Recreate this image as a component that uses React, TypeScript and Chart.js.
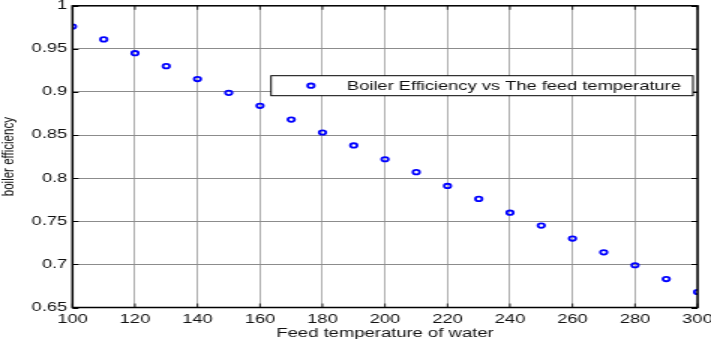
import { useEffect, useRef } from "react";
import { Chart, registerables } from "chart.js";

Chart.register(...registerables);

// Feed water temperature (x) and resulting boiler efficiency (y)
const feedTemps = [100, 110, 120, 130, 140, 150, 160, 170, 180, 190, 200, 210, 220, 230, 240, 250, 260, 270, 280, 290, 300];
const efficiency = [0.976, 0.961, 0.945, 0.93, 0.915, 0.899, 0.884, 0.868, 0.853, 0.838, 0.822, 0.807, 0.791, 0.776, 0.76, 0.745, 0.73, 0.714, 0.699, 0.683, 0.668];

const seriesLabel = "Boiler Efficiency vs The feed temperature";
const xTitle = "Feed temperature of water";
const yTitle = "boiler efficiency";

const xMin = 100;
const xMax = 300;
const xStep = 20;
const yMin = 0.65;
const yMax = 1;
const yStep = 0.05;

// The figure is drawn narrow and stretched horizontally on screen
const STRETCH = 1.5;
const CANVAS_W = 474;
const CANVAS_H = 339;
const FONT = "'Liberation Sans', Arial, sans-serif";

const framePlugin = {
  id: "frameAndLegend",
  afterDatasetsDraw(chart: any) {
    const { ctx, chartArea } = chart;
    const { left, right, top, bottom } = chartArea;
    const xs = chart.scales.x;
    const ys = chart.scales.y;
    ctx.save();
    // inward tick marks on all four sides
    ctx.strokeStyle = "#000";
    ctx.lineWidth = 0.8;
    xs.ticks.forEach((t: any) => {
      const px = xs.getPixelForValue(t.value);
      ctx.beginPath();
      ctx.moveTo(px, bottom);
      ctx.lineTo(px, bottom - 4);
      ctx.moveTo(px, top);
      ctx.lineTo(px, top + 4);
      ctx.stroke();
    });
    ctx.lineWidth = 1;
    ys.ticks.forEach((t: any) => {
      const py = Math.round(ys.getPixelForValue(t.value)) + 0.5;
      ctx.beginPath();
      ctx.moveTo(left, py);
      ctx.lineTo(left + 4, py);
      ctx.moveTo(right, py);
      ctx.lineTo(right - 4, py);
      ctx.stroke();
    });
    // axes box
    ctx.lineWidth = 1.5;
    ctx.strokeRect(left, top, right - left, bottom - top);

    // legend box
    const bx = 180.7;
    const by = 75.7;
    const bw = 281.3;
    const bh = 20;
    ctx.fillStyle = "#fff";
    ctx.fillRect(bx, by, bw, bh);
    ctx.lineWidth = 1;
    ctx.strokeStyle = "#000";
    ctx.strokeRect(bx, by, bw, bh);
    const ds = chart.data.datasets[0];
    ctx.beginPath();
    ctx.arc(bx + 26.6, by + bh / 2, 2.2, 0, Math.PI * 2);
    ctx.strokeStyle = ds.borderColor;
    ctx.lineWidth = 1.8;
    ctx.stroke();
    ctx.fillStyle = "#111";
    ctx.font = `12.2px ${FONT}`;
    ctx.textBaseline = "middle";
    ctx.textAlign = "left";
    ctx.fillText(ds.label, bx + 50.6, by + bh / 2 + 0.5);
    ctx.restore();
  },
};

export default function App() {
  const canvasRef = useRef<HTMLCanvasElement | null>(null);

  useEffect(() => {
    const canvas = canvasRef.current;
    if (!canvas) return;
    const chart = new Chart(canvas, {
      type: "scatter",
      data: {
        datasets: [
          {
            label: seriesLabel,
            data: feedTemps.map((t, i) => ({ x: t, y: efficiency[i] })),
            borderColor: "#0000ff",
            backgroundColor: "rgba(0,0,0,0)",
            pointRadius: 2.2,
            pointBorderWidth: 1.8,
            showLine: false,
          },
        ],
      },
      options: {
        responsive: false,
        animation: false,
        devicePixelRatio: 1,
        layout: { padding: { top: 4.5, right: 9, left: 0, bottom: 0 } },
        plugins: {
          legend: { display: false },
          tooltip: { enabled: false },
        },
        scales: {
          x: {
            type: "linear",
            min: xMin,
            max: xMax,
            border: { display: false },
            grid: { color: "#8c8c8c", lineWidth: 0.7, drawTicks: false },
            ticks: {
              stepSize: xStep,
              autoSkip: false,
              maxRotation: 0,
              padding: 5,
              color: "#111",
              font: { family: FONT, size: 12.2 },
            },
            title: {
              display: true,
              text: xTitle,
              color: "#111",
              font: { family: FONT, size: 12.3, lineHeight: 0.9 },
              padding: 0,
            },
            afterFit(scale: any) {
              scale.height = 31.5;
              scale.paddingLeft = 0;
              scale.paddingRight = 0;
            },
          },
          y: {
            type: "linear",
            min: yMin,
            max: yMax,
            border: { display: false },
            grid: { color: "#8c8c8c", lineWidth: 1, drawTicks: false },
            ticks: {
              stepSize: yStep,
              autoSkip: false,
              padding: 3.5,
              color: "#111",
              font: { family: FONT, size: 12.2 },
              callback: (v: any) => Number(Number(v).toFixed(2)).toString(),
            },
            title: {
              display: true,
              text: yTitle,
              color: "#111",
              font: { family: FONT, size: 11.5, lineHeight: 1.05 },
              padding: 0,
            },
            afterFit(scale: any) {
              scale.width = 48.33;
              scale.paddingTop = 0;
              scale.paddingBottom = 0;
            },
          },
        },
      },
      plugins: [framePlugin],
    } as any);
    return () => chart.destroy();
  }, []);

  return (
    <div style={{ position: "fixed", left: 0, top: 0, width: 711, height: 339, overflow: "hidden", background: "#fff" }}>
      <canvas
        ref={canvasRef}
        width={CANVAS_W}
        height={CANVAS_H}
        style={{
          display: "block",
          width: CANVAS_W,
          height: CANVAS_H,
          transform: `scaleX(${STRETCH})`,
          transformOrigin: "0 0",
        }}
      />
    </div>
  );
}
